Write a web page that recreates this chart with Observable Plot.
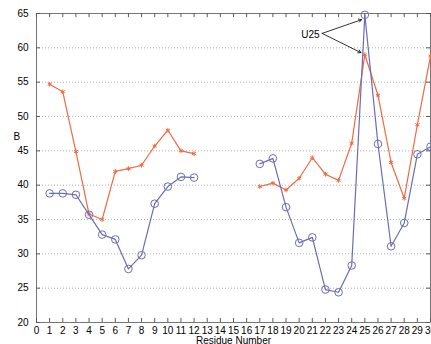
<!DOCTYPE html>
<html><head><meta charset="utf-8">
<script src="https://cdn.jsdelivr.net/npm/d3@7"></script>
<script src="https://cdn.jsdelivr.net/npm/@observablehq/plot@0.6"></script>
<style>
body{margin:0;background:#fff;}
svg{font-family:"Liberation Sans",Arial,sans-serif;}
</style></head>
<body><div id="chart"></div>
<script>
const residue = d3.range(1, 31);
const orangeB = [54.7,53.6,44.9,35.8,35.0,42.0,42.4,42.9,45.7,48.0,45.0,44.6,null,null,null,null,39.8,40.3,39.3,41.0,44.0,41.6,40.7,46.1,59.0,53.1,43.3,38.1,48.8,58.8];
const blueB = [38.8,38.8,38.6,35.7,32.8,32.1,27.8,29.8,37.3,39.8,41.2,41.1,null,null,null,null,43.1,43.9,36.8,31.6,32.4,24.8,24.4,28.3,64.8,46.0,31.1,34.5,44.5,45.6];
const xTicks = d3.range(0, 31);
const yTicks = [20,25,30,35,40,45,50,55,60,65];
const gridY = [25,30,35,40,45,50,55,60];
const annLabel = ["U25"];
const annText = {x: 21.55, y: 61.9};
const arrowStart = {x: 21.75, y: 62.1};
const arrowEnds = [{x: 24.75, y: 64.1}, {x: 24.7, y: 59.3}];

const orange = residue.map((r, i) => ({x: r, y: orangeB[i] == null ? NaN : orangeB[i]}));
const blue = residue.map((r, i) => ({x: r, y: blueB[i] == null ? NaN : blueB[i]}));
const cO = "#ee6a40", cB = "#6b6db5";

const plot = Plot.plot({
  width: 431, height: 344,
  marginLeft: 36, marginRight: 1, marginTop: 13, marginBottom: 22,
  style: {fontSize: "10px", fontFamily: "Liberation Sans, Arial, sans-serif", background: "#fff", color: "#000"},
  x: {domain: [0, 30]},
  y: {domain: [20, 65]},
  marks: [
    Plot.ruleY(gridY, {stroke: "#999", strokeDasharray: "1,2", strokeWidth: 0.8}),
    Plot.ruleX(xTicks, {y1: 20, y2: 20.6, stroke: "#333", strokeWidth: 0.8}),
    Plot.ruleX(xTicks, {y1: 64.4, y2: 65, stroke: "#333", strokeWidth: 0.8}),
    Plot.ruleY(yTicks, {x1: 0, x2: 0.3, stroke: "#333", strokeWidth: 0.8}),
    Plot.ruleY(yTicks, {x1: 29.7, x2: 30, stroke: "#333", strokeWidth: 0.8}),
    Plot.frame({stroke: "#555", strokeWidth: 0.8}),
    Plot.axisX(xTicks, {tickSize: 0, tickPadding: 4, label: "Residue Number", labelAnchor: "center", labelArrow: "none", labelOffset: 21, fontSize: 10}),
    Plot.axisY(yTicks, {tickSize: 0, tickPadding: 8, label: null, fontSize: 10}),
    Plot.text(["B"], {y: 47, frameAnchor: "left", dx: -23, fontSize: 10}),
    Plot.line(orange, {x: "x", y: "y", stroke: cO, strokeWidth: 1.2}),
    Plot.dot(orange.filter(d => !isNaN(d.y)), {x: "x", y: "y", symbol: "asterisk", r: 2.2, stroke: cO, strokeWidth: 1}),
    Plot.line(blue, {x: "x", y: "y", stroke: cB, strokeWidth: 1.2}),
    Plot.dot(blue.filter(d => !isNaN(d.y)), {x: "x", y: "y", r: 3.8, stroke: cB, fill: "none", strokeWidth: 1}),
    Plot.arrow(arrowEnds, {x1: () => arrowStart.x, y1: () => arrowStart.y, x2: "x", y2: "y", stroke: "#000", strokeWidth: 0.8, headLength: 6}),
    Plot.text(annLabel, {x: annText.x, y: annText.y, textAnchor: "end", fontSize: 10})
  ]
});
document.getElementById("chart").appendChild(plot);
</script></body></html>
